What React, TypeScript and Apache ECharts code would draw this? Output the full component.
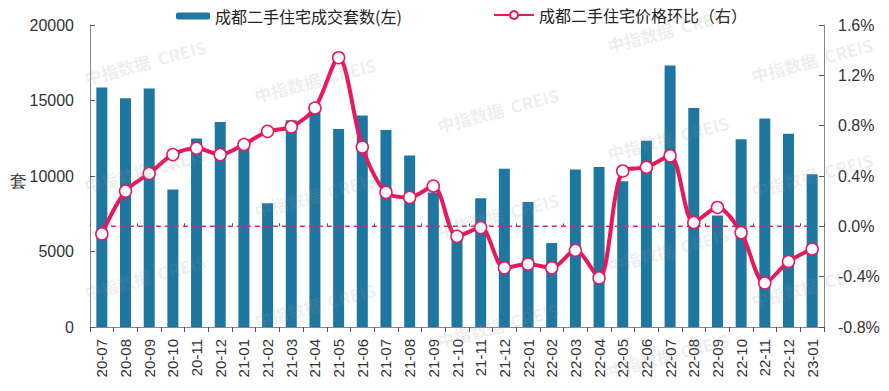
import React, { useEffect, useRef } from "react";
import * as echarts from "echarts";

const categories = [
  "20-07", "20-08", "20-09", "20-10", "20-11", "20-12",
  "21-01", "21-02", "21-03", "21-04", "21-05", "21-06",
  "21-07", "21-08", "21-09", "21-10", "21-11", "21-12",
  "22-01", "22-02", "22-03", "22-04", "22-05", "22-06",
  "22-07", "22-08", "22-09", "22-10", "22-11", "22-12", "23-01",
];

const salesVolume = [
  15860, 15150, 15790, 9100, 12490, 13580,
  12030, 8200, 13690, 14310, 13110, 14000,
  13050, 11360, 8900, 6000, 8530, 10480,
  8280, 5560, 10430, 10590, 9660, 12340,
  17320, 14510, 7380, 12430, 13800, 12800, 10120,
];

const priceMoM = [
  -0.06, 0.28, 0.42, 0.57, 0.62, 0.57,
  0.65, 0.755, 0.79, 0.94, 1.34, 0.63,
  0.27, 0.23, 0.32, -0.08, -0.01, -0.33,
  -0.30, -0.33, -0.19, -0.41, 0.44, 0.47,
  0.56, 0.03, 0.15, -0.05, -0.45, -0.28, -0.18,
];

const zeroLine = categories.map(() => 0);

const barName = "成都二手住宅成交套数(左)";
const lineName = "成都二手住宅价格环比（右）";
const watermarkText = "中指数据  CREIS";

const watermarkSpots: [number, number][] = [
  [145, 62], [145, 170], [145, 277],
  [315, 80], [315, 195], [315, 305],
  [498, 110], [498, 215], [498, 325],
  [668, 30], [668, 138], [668, 250], [668, 355],
  [812, 60], [812, 175], [812, 285],
];

export default function App() {
  const ref = useRef<HTMLDivElement>(null);
  useEffect(() => {
    if (!ref.current) return;
    const chart = echarts.init(ref.current, undefined, { renderer: "svg" });
    const axisColor = "#888";
    const labelColor = "#333";
    const font = "'Liberation Sans', Arial, sans-serif";
    const pink = "#e8185c";
    chart.setOption({
      animation: false,
      backgroundColor: "#fff",
      grid: { left: 90, right: 65, top: 25, bottom: 64, containLabel: false },
      legend: [
        {
          data: [barName],
          left: 171,
          top: 3,
          itemWidth: 34,
          itemHeight: 7,
          textStyle: { fontSize: 16, color: "#222", fontFamily: "'Noto Sans CJK SC', sans-serif" },
        },
        {
          data: [lineName],
          left: 488,
          top: 2,
          itemWidth: 40,
          itemHeight: 10,
          textStyle: { fontSize: 16, color: "#222", fontFamily: "'Noto Sans CJK SC', sans-serif" },
        },
      ],
      xAxis: [
        {
          type: "category",
          data: categories,
          boundaryGap: true,
          axisLine: { lineStyle: { color: axisColor, width: 1 } },
          axisTick: { show: true, inside: false, length: 5, lineStyle: { color: "#555" } },
          axisLabel: { rotate: 90, margin: 12, fontSize: 15, color: labelColor, fontFamily: font, interval: 0 },
          splitLine: { show: false },
        },
        {
          type: "category",
          data: categories,
          position: "bottom",
          boundaryGap: true,
          axisLine: { show: false },
          axisTick: { show: true, inside: true, length: 3, lineStyle: { color: "#555" } },
          axisLabel: { show: false },
          splitLine: { show: false },
        },
      ],
      yAxis: [
        {
          type: "value",
          min: 0,
          max: 20000,
          interval: 5000,
          axisLine: { show: true, lineStyle: { color: axisColor, width: 1 } },
          axisTick: { show: true, inside: true, length: 5, lineStyle: { color: "#555" } },
          axisLabel: { margin: 16, fontSize: 16, color: labelColor, fontFamily: font, formatter: (v: number) => String(v) },
          splitLine: { show: false },
        },
        {
          type: "value",
          min: -0.8,
          max: 1.6,
          interval: 0.4,
          position: "right",
          axisLine: { show: true, lineStyle: { color: axisColor, width: 1 } },
          axisTick: { show: true, inside: true, length: 5, lineStyle: { color: "#555" } },
          axisLabel: { margin: 14, fontSize: 16, color: labelColor, fontFamily: font, formatter: (v: number) => v.toFixed(1) + "%" },
          splitLine: { show: false },
        },
      ],
      series: [
        {
          name: barName,
          type: "bar",
          data: salesVolume,
          barWidth: 11,
          itemStyle: { color: "#1e77a0" },
          z: 2,
        },
        {
          name: "zero",
          type: "line",
          yAxisIndex: 1,
          data: zeroLine,
          symbol: "none",
          lineStyle: { color: "#d0306e", width: 1.5, type: [5, 4] },
          z: 3,
        },
        {
          name: lineName,
          type: "line",
          yAxisIndex: 1,
          data: priceMoM,
          smooth: 0.3,
          symbol: "circle",
          symbolSize: 12,
          showSymbol: true,
          lineStyle: { color: pink, width: 4 },
          itemStyle: { color: "#fff", borderColor: pink, borderWidth: 1.5 },
          z: 4,
        },
      ],
      graphic: [
        {
          type: "text",
          left: 10,
          top: 173,
          style: { text: "套", fontSize: 17, fill: "#333", font: "17px 'Noto Sans CJK SC', sans-serif" },
        },
        ...watermarkSpots.map(([x, y]) => ({
          type: "text",
          x,
          y,
          rotation: 0.26,
          z: 100,
          silent: true,
          style: {
            text: watermarkText,
            fill: "rgba(150,150,150,0.16)",
            font: "bold 17px 'Noto Sans CJK SC', sans-serif",
            align: "center",
            verticalAlign: "middle",
          },
        })),
      ],
    });
    return () => chart.dispose();
  }, []);
  return (
    <div
      ref={ref}
      style={{ position: "fixed", left: 0, top: 0, width: 889, height: 391 }}
    />
  );
}
